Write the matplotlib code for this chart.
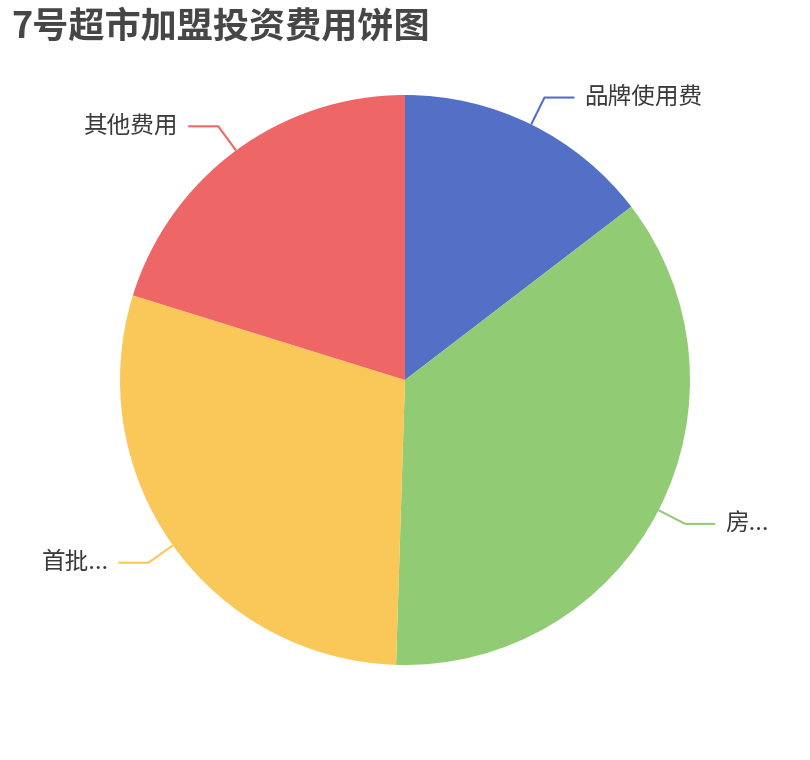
import numpy as np
import matplotlib
matplotlib.use("Agg")
import matplotlib.pyplot as plt

plt.rcParams['font.family'] = ['Noto Sans CJK SC', 'DejaVu Sans']

title = "7号超市加盟投资费用饼图"
labels = ["品牌使用费", "房...", "首批...", "其他费用"]
values = [14.6, 35.9, 29.3, 20.2]
colors = ["#5470c6", "#91cc75", "#fac858", "#ee6666"]

W, H = 810, 760
fig = plt.figure(figsize=(W / 100, H / 100), dpi=100)
ax = fig.add_axes([0, 0, 1, 1])
ax.set_xlim(0, W)
ax.set_ylim(0, H)
ax.axis('off')

cx, cy, r = 405, H - 380, 285
wedges, _ = ax.pie(values, colors=colors, startangle=90, counterclock=False,
                   center=(cx, cy), radius=r, frame=True,
                   wedgeprops=dict(linewidth=0))
ax.set_xlim(0, W)
ax.set_ylim(0, H)
ax.set_aspect('auto')
ax.axis('off')

r_out = 315
hlen = 30
gap = 10
for w, lab, col in zip(wedges, labels, colors):
    mid = np.deg2rad((w.theta1 + w.theta2) / 2)
    x0, y0 = cx + r * np.cos(mid), cy + r * np.sin(mid)
    x1, y1 = cx + r_out * np.cos(mid), cy + r_out * np.sin(mid)
    side = 1 if np.cos(mid) >= 0 else -1
    x2 = x1 + side * hlen
    ax.plot([x0, x1, x2], [y0, y1, y1], color=col, lw=1.5, solid_capstyle='butt')
    ax.text(x2 + side * gap, y1, lab, ha='left' if side > 0 else 'right',
            va='center', fontsize=17, color='#3a3a3a')

fig.text(11 / W, 1 - 27 / H, title, fontsize=26, fontweight='bold',
         color='#464646', ha='left', va='center')

fig.savefig("out.png", dpi=100)
